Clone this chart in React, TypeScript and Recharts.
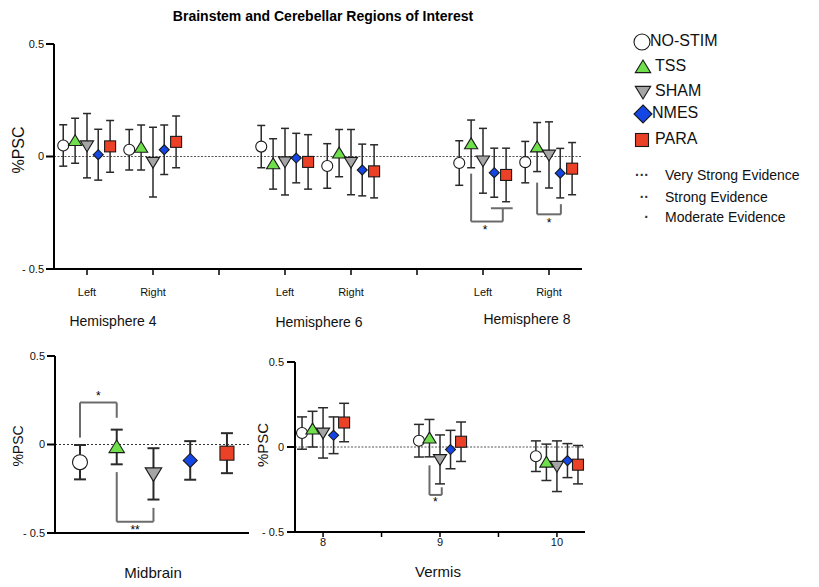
import React from "react";
import { ScatterChart, Scatter, XAxis, YAxis, ErrorBar, ReferenceLine, ReferenceDot } from "recharts";

const FONT = "'Liberation Sans', Arial, Helvetica, sans-serif";

// series
const groups = ["NO-STIM", "TSS", "SHAM", "NMES", "PARA"];
const colors = ["#ffffff", "#6fe04c", "#a5a5a5", "#1446e6", "#ea4127"];
const kinds = ["circle", "up", "down", "diamond", "square"];

// cerebellar hemispheres: H4 L, H4 R, H6 L, H6 R, H8 L, H8 R
const hemiPos = [0, 1, 3, 4, 6, 7];
const hemiTicks = [0, 1, 2, 3, 4, 5, 6, 7];
const hemiTickLabels = ["Left", "Right", "", "Left", "Right", "", "Left", "Right"];
const hemiNames = ["Hemisphere 4", "Hemisphere 6", "Hemisphere 8"];
const hemiOffsets = [-0.36, -0.18, 0, 0.17, 0.35];

const hemiNoStim = [0.049, 0.03, 0.044, -0.042, -0.029, -0.025];
const hemiNoStimErr = [0.092, 0.09, 0.094, 0.099, 0.099, 0.092];
const hemiTss = [0.07, 0.04, -0.033, 0.015, 0.056, 0.042];
const hemiTssErr = [0.1, 0.1, 0.112, 0.105, 0.106, 0.109];
const hemiSham = [0.048, -0.025, -0.023, -0.025, -0.019, 0.007];
const hemiShamErr = [0.143, 0.155, 0.148, 0.145, 0.144, 0.147];
const hemiNmes = [0.008, 0.03, -0.007, -0.06, -0.072, -0.074];
const hemiNmesErr = [0.113, 0.11, 0.11, 0.115, 0.109, 0.11];
const hemiPara = [0.045, 0.065, -0.024, -0.066, -0.082, -0.054];
const hemiParaErr = [0.115, 0.115, 0.121, 0.118, 0.119, 0.116];

// midbrain: one value per group
const midMean = [-0.1, -0.014, -0.166, -0.09, -0.049];
const midErr = [0.097, 0.098, 0.145, 0.109, 0.113];

// vermis lobules 8, 9, 10
const vermisPos = [8, 9, 10];
const vermisOffsets = [-0.18, -0.09, 0, 0.09, 0.18];
const vermisNoStim = [0.082, 0.037, -0.054];
const vermisNoStimErr = [0.095, 0.096, 0.09];
const vermisTss = [0.105, 0.052, -0.09];
const vermisTssErr = [0.105, 0.11, 0.107];
const vermisSham = [0.083, -0.073, -0.113];
const vermisShamErr = [0.148, 0.144, 0.149];
const vermisNmes = [0.069, -0.015, -0.08];
const vermisNmesErr = [0.108, 0.113, 0.1];
const vermisPara = [0.144, 0.031, -0.104];
const vermisParaErr = [0.113, 0.116, 0.113];

const evidence = [
  { dots: "\u00b7\u00b7\u00b7", text: "Very Strong Evidence" },
  { dots: "\u00b7\u00b7", text: "Strong Evidence" },
  { dots: "\u00b7", text: "Moderate Evidence" },
];

// significance brackets, as polylines in data units
const hemiBrackets = [
  [{ x: 5.82, y: -0.076 }, { x: 5.82, y: -0.289 }, { x: 6.3, y: -0.289 }, { x: 6.3, y: -0.23 }],
  [{ x: 6.12, y: -0.23 }, { x: 6.45, y: -0.23 }],
  [{ x: 6.82, y: -0.116 }, { x: 6.82, y: -0.257 }, { x: 7.18, y: -0.257 }, { x: 7.18, y: -0.212 }],
];
const hemiStars = [
  { x: 6.03, y: -0.33, t: "*" },
  { x: 7.0, y: -0.3, t: "*" },
];
const midBrackets = [
  [{ x: 1, y: 0.039 }, { x: 1, y: 0.237 }, { x: 2, y: 0.237 }, { x: 2, y: 0.151 }],
  [{ x: 2, y: -0.156 }, { x: 2, y: -0.436 }, { x: 3, y: -0.436 }, { x: 3, y: -0.358 }],
];
const midStars = [
  { x: 1.5, y: 0.27, t: "*" },
  { x: 2.5, y: -0.49, t: "**" },
];
const vermisBrackets = [
  [{ x: 8.91, y: -0.108 }, { x: 8.91, y: -0.282 }, { x: 9.015, y: -0.282 }, { x: 9.015, y: -0.237 }],
];
const vermisStars = [{ x: 8.96, y: -0.33, t: "*" }];

const hemiSeries = [
  [hemiNoStim, hemiNoStimErr],
  [hemiTss, hemiTssErr],
  [hemiSham, hemiShamErr],
  [hemiNmes, hemiNmesErr],
  [hemiPara, hemiParaErr],
];
const vermisSeries = [
  [vermisNoStim, vermisNoStimErr],
  [vermisTss, vermisTssErr],
  [vermisSham, vermisShamErr],
  [vermisNmes, vermisNmesErr],
  [vermisPara, vermisParaErr],
];

function Marker({ cx, cy, kind, fill, s }: any) {
  const h = s / 2;
  const common = { fill, stroke: "#1a1a1a", strokeWidth: 1.1 };
  if (kind === "circle") return <circle cx={cx} cy={cy} r={h} {...common} />;
  if (kind === "up")
    return <polygon points={`${cx},${cy - h} ${cx - h * 1.1},${cy + h * 0.8} ${cx + h * 1.1},${cy + h * 0.8}`} {...common} />;
  if (kind === "down")
    return <polygon points={`${cx},${cy + h} ${cx - h * 1.1},${cy - h * 0.8} ${cx + h * 1.1},${cy - h * 0.8}`} {...common} />;
  if (kind === "diamond")
    return <polygon points={`${cx},${cy - h} ${cx + h},${cy} ${cx},${cy + h} ${cx - h},${cy}`} {...common} />;
  return <rect x={cx - h} y={cy - h} width={s} height={s} {...common} />;
}

const sizes: Record<string, number[]> = {
  small: [11, 12, 12, 10, 11],
  big: [15, 14, 15, 14, 14],
};

function Star(props: any) {
  return (
    <text x={props.cx} y={props.cy} textAnchor="middle" dominantBaseline="middle" fontSize={12} fontFamily={FONT} fill="#000">
      {props.label}
    </text>
  );
}

function brackets(list: { x: number; y: number }[][], keyBase: string) {
  const out: any[] = [];
  list.forEach((pts, i) => {
    for (let j = 0; j < pts.length - 1; j++) {
      out.push(
        <ReferenceLine
          key={`${keyBase}-${i}-${j}`}
          segment={[pts[j], pts[j + 1]]}
          stroke="#6b6b6b"
          strokeWidth={2}
          ifOverflow="visible"
        />
      );
    }
  });
  return out;
}

function stars(list: { x: number; y: number; t: string }[], keyBase: string) {
  return list.map((s, i) => (
    <ReferenceDot
      key={`${keyBase}-${i}`}
      x={s.x}
      y={s.y}
      r={0}
      ifOverflow="visible"
      shape={(p: any) => <Star {...p} label={s.t} />}
    />
  ));
}

const yTicks = [-0.5, 0, 0.5];
const yFmt = (v: number) => (v === -0.5 ? "- 0.5" : v === 0 ? "0" : "0.5");

export default function App() {
  const hemiData = hemiSeries.map(([m, e], g) =>
    m.map((v, i) => ({ x: hemiPos[i] + hemiOffsets[g], y: v, err: e[i] }))
  );
  const midData = midMean.map((v, g) => [{ x: g + 1, y: v, err: midErr[g] }]);
  const vermisData = vermisSeries.map(([m, e], g) =>
    m.map((v, i) => ({ x: vermisPos[i] + vermisOffsets[g], y: v, err: e[i] }))
  );

  const axisStyle = { stroke: "#000", strokeWidth: 2 };
  const tickStyle = { fontSize: 11, fill: "#111", fontFamily: FONT };

  return (
    <div style={{ position: "absolute", left: 0, top: 0, width: 819, height: 587, background: "#fff", fontFamily: FONT }}>
      {/* hemispheres */}
      <div style={{ position: "absolute", left: 0, top: 0 }}>
        <ScatterChart width={600} height={340} margin={{ top: 44, right: 18, left: 14, bottom: 41 }}>
          <XAxis
            type="number"
            dataKey="x"
            domain={[-0.5, 7.5]}
            ticks={hemiTicks}
            tickFormatter={(v: number) => hemiTickLabels[v] ?? ""}
            axisLine={axisStyle}
            tickLine={{ stroke: "#000", strokeWidth: 1.5 }}
            tickSize={6}
            tickMargin={13}
            tick={tickStyle}
            height={30}
            interval={0}
          />
          <YAxis
            type="number"
            dataKey="y"
            domain={[-0.5, 0.5]}
            ticks={yTicks}
            tickFormatter={yFmt}
            axisLine={axisStyle}
            tickLine={{ stroke: "#000", strokeWidth: 2 }}
            tickSize={8}
            tickMargin={2}
            tick={tickStyle}
            width={40}
          />
          <ReferenceLine y={0} stroke="#555" strokeDasharray="2 1.5" strokeWidth={1} />
          {hemiData.map((d, g) => (
            <Scatter
              key={groups[g]}
              name={groups[g]}
              data={d}
              isAnimationActive={false}
              shape={(p: any) => <Marker cx={p.cx} cy={p.cy} kind={kinds[g]} fill={colors[g]} s={sizes.small[g]} />}
            >
              <ErrorBar dataKey="err" direction="y" width={4} stroke="#2a2a2a" strokeWidth={1.5} />
            </Scatter>
          ))}
          {brackets(hemiBrackets, "hb")}
          {stars(hemiStars, "hs")}
        </ScatterChart>
      </div>

      {/* midbrain */}
      <div style={{ position: "absolute", left: 0, top: 330 }}>
        <ScatterChart width={260} height={230} margin={{ top: 26, right: 11, left: 15, bottom: 26 }}>
          <XAxis type="number" dataKey="x" domain={[0.32, 5.6]} axisLine={axisStyle} tick={false} tickLine={false} height={1} />
          <YAxis
            type="number"
            dataKey="y"
            domain={[-0.5, 0.5]}
            ticks={yTicks}
            tickFormatter={yFmt}
            axisLine={axisStyle}
            tickLine={{ stroke: "#000", strokeWidth: 2 }}
            tickSize={8}
            tickMargin={2}
            tick={tickStyle}
            width={40}
          />
          <ReferenceLine y={0} stroke="#333" strokeDasharray="2 2" strokeWidth={1.2} />
          {midData.map((d, g) => (
            <Scatter
              key={groups[g]}
              name={groups[g]}
              data={d}
              isAnimationActive={false}
              shape={(p: any) => <Marker cx={p.cx} cy={p.cy} kind={kinds[g]} fill={colors[g]} s={sizes.big[g]} />}
            >
              <ErrorBar dataKey="err" direction="y" width={6} stroke="#2a2a2a" strokeWidth={2} />
            </Scatter>
          ))}
          {brackets(midBrackets, "mb")}
          {stars(midStars, "ms")}
        </ScatterChart>
      </div>

      {/* vermis */}
      <div style={{ position: "absolute", left: 250, top: 340 }}>
        <ScatterChart width={340} height={240} margin={{ top: 22, right: 5, left: 10, bottom: 18 }}>
          <XAxis
            type="number"
            dataKey="x"
            domain={[7.76, 10.24]}
            ticks={[8, 8.5, 9, 9.5, 10]}
            tickFormatter={(v: number) => (Number.isInteger(v) ? String(v) : "")}
            axisLine={axisStyle}
            tickLine={{ stroke: "#000", strokeWidth: 1.5 }}
            tickSize={5}
            tickMargin={1}
            tick={tickStyle}
            height={30}
            interval={0}
          />
          <YAxis
            type="number"
            dataKey="y"
            domain={[-0.5, 0.5]}
            ticks={yTicks}
            tickFormatter={yFmt}
            axisLine={axisStyle}
            tickLine={{ stroke: "#000", strokeWidth: 2 }}
            tickSize={8}
            tickMargin={3}
            tick={tickStyle}
            width={35}
          />
          <ReferenceLine y={0} stroke="#555" strokeDasharray="2 1.5" strokeWidth={1} />
          {vermisData.map((d, g) => (
            <Scatter
              key={groups[g]}
              name={groups[g]}
              data={d}
              isAnimationActive={false}
              shape={(p: any) => <Marker cx={p.cx} cy={p.cy} kind={kinds[g]} fill={colors[g]} s={sizes.small[g]} />}
            >
              <ErrorBar dataKey="err" direction="y" width={5} stroke="#2a2a2a" strokeWidth={1.5} />
            </Scatter>
          ))}
          {brackets(vermisBrackets, "vb")}
          {stars(vermisStars, "vs")}
        </ScatterChart>
      </div>

      {/* text and legend */}
      <svg width={819} height={587} style={{ position: "absolute", left: 0, top: 0, pointerEvents: "none" }} fontFamily={FONT}>
        <text x={323} y={17} textAnchor="middle" dominantBaseline="middle" fontSize={14} fontWeight="bold" fill="#000">
          Brainstem and Cerebellar Regions of Interest
        </text>
        <text transform="translate(20,150) rotate(-90)" textAnchor="middle" dominantBaseline="middle" fontSize={16} fill="#111">
          %PSC
        </text>
        <text transform="translate(19,446) rotate(-90)" textAnchor="middle" dominantBaseline="middle" fontSize={14} fill="#111">
          %PSC
        </text>
        <text transform="translate(264,445) rotate(-90)" textAnchor="middle" dominantBaseline="middle" fontSize={15} fill="#111">
          %PSC
        </text>
        {hemiNames.map((n, i) => (
          <text key={n} x={[113, 319, 527][i]} y={[322, 323, 320][i]} textAnchor="middle" dominantBaseline="middle" fontSize={14} fill="#111">
            {n}
          </text>
        ))}
        <text x={153} y={574} textAnchor="middle" dominantBaseline="middle" fontSize={15} fill="#111">
          Midbrain
        </text>
        <text x={438} y={573} textAnchor="middle" dominantBaseline="middle" fontSize={15} fill="#111">
          Vermis
        </text>

        {groups.map((g, i) => {
          const cy = [42, 67, 92, 114, 140][i];
          const cx = [642, 643, 643, 643, 642][i];
          const s = [16, 14, 14, 18, 13][i];
          const tx = [650, 655, 655, 652, 655][i];
          return (
            <g key={g}>
              <Marker cx={cx} cy={cy} kind={kinds[i]} fill={colors[i]} s={s} />
              <text x={tx} y={cy} dominantBaseline="middle" fontSize={16} fill="#111">
                {g}
              </text>
            </g>
          );
        })}
        {evidence.map((e, i) => {
          const cy = [176, 198, 218][i];
          return (
            <g key={e.text}>
              <text x={649} y={cy} textAnchor="end" dominantBaseline="middle" fontSize={14} fontWeight="bold" fill="#333">
                {e.dots}
              </text>
              <text x={665} y={cy} dominantBaseline="middle" fontSize={14} fill="#111">
                {e.text}
              </text>
            </g>
          );
        })}
      </svg>
    </div>
  );
}
